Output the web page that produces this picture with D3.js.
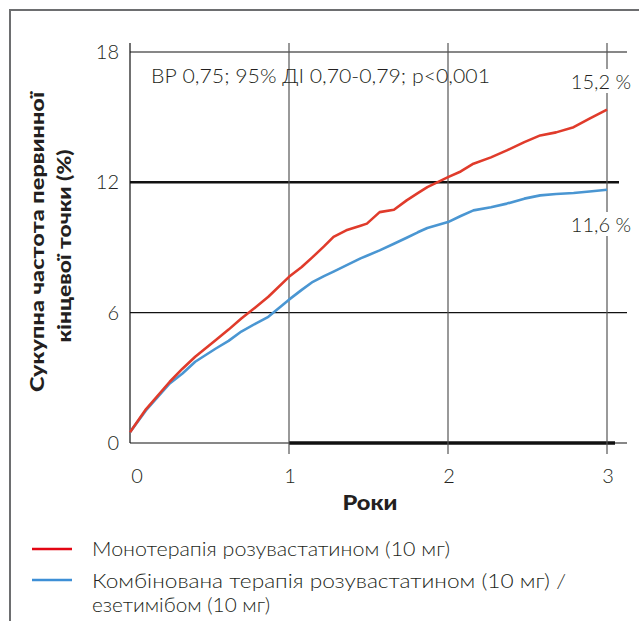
<!DOCTYPE html>
<html>
<head>
<meta charset="utf-8">
<script src="https://cdn.jsdelivr.net/npm/d3@7"></script>
<style>
  body { margin: 0; background: #fff; }
  text { font-family: Lato, "Noto Sans", sans-serif; fill: #231f20; }
</style>
</head>
<body>
<svg id="chart" width="639" height="621"></svg>
<script>
var svg = d3.select("#chart");

// data
var years = [0, 0.1, 0.25, 0.33, 0.41, 0.54, 0.62, 0.7, 0.79, 0.87, 1.0, 1.08, 1.15, 1.22, 1.28,
  1.36, 1.45, 1.49, 1.57, 1.66, 1.74, 1.81, 1.87, 2.0, 2.08, 2.16, 2.27, 2.37, 2.48, 2.58,
  2.68, 2.79, 2.89, 3.0];
var monoRate = [0.5, 1.55, 2.82, 3.42, 3.97, 4.74, 5.22, 5.73, 6.25, 6.73, 7.65, 8.1, 8.57, 9.05,
  9.49, 9.79, 10.0, 10.1, 10.63, 10.74, 11.17, 11.5, 11.78, 12.24, 12.5, 12.86, 13.15, 13.47,
  13.85, 14.16, 14.3, 14.54, 14.93, 15.35];
var comboRate = [0.5, 1.5, 2.74, 3.2, 3.74, 4.35, 4.7, 5.13, 5.5, 5.81, 6.6, 7.05, 7.42, 7.68,
  7.89, 8.18, 8.5, 8.62, 8.87, 9.17, 9.45, 9.7, 9.9, 10.17, 10.45, 10.71, 10.85, 11.02, 11.25,
  11.4, 11.46, 11.51, 11.58, 11.66];
var yTicks = [0, 6, 12, 18];
var xTicks = [0, 1, 2, 3];
var seriesNames = ["Монотерапія розувастатином (10 мг)",
  "Комбінована терапія розувастатином (10 мг) /", "езетимібом (10 мг)"];
var endLabels = ["15,2 %", "11,6 %"];
var statText = "ВР 0,75; 95% ДІ 0,70-0,79; р<0,001";

var RED = "#e03b2b", BLUE = "#4a96d2";

var x = d3.scaleLinear().domain([0, 3]).range([130, 607]);
var y = d3.scaleLinear().domain([0, 18]).range([443, 52]);

// stretch a text to a given width (reference font is wider than Lato)
function fitWidth(sel, w) {
  sel.attr("textLength", w).attr("lengthAdjust", "spacingAndGlyphs");
}

// frame
svg.append("path")
  .attr("d", "M10,621 V10 H639")
  .attr("fill", "none")
  .attr("stroke", "#6d6e70")
  .attr("stroke-width", 2);

// horizontal grid
svg.selectAll(".hgrid").data(yTicks)
  .enter().append("line")
  .attr("class", "hgrid")
  .attr("x1", x(0))
  .attr("x2", function(d) { return d === 12 ? 619 : 627; })
  .attr("y1", function(d) { return y(d); })
  .attr("y2", function(d) { return y(d); })
  .attr("stroke", "#111")
  .attr("stroke-width", function(d) { return d === 12 ? 2.5 : 1.2; });

// thick bit on the x axis
svg.append("line")
  .attr("x1", x(1)).attr("x2", 615)
  .attr("y1", y(0)).attr("y2", y(0))
  .attr("stroke", "#111").attr("stroke-width", 3.5);

// vertical grid
svg.selectAll(".vgrid").data(xTicks)
  .enter().append("line")
  .attr("class", "vgrid")
  .attr("x1", function(d) { return x(d); })
  .attr("x2", function(d) { return x(d); })
  .attr("y1", 43)
  .attr("y2", function(d) { return d === 0 ? y(0) : 454; })
  .attr("stroke", function(d) { return d === 0 ? "#111" : "#555"; })
  .attr("stroke-width", 1.2);

// tick labels
svg.selectAll(".ylab").data(yTicks)
  .enter().append("text")
  .attr("class", "ylab")
  .attr("x", 119)
  .attr("y", function(d) { return y(d) + 7; })
  .attr("text-anchor", "end")
  .style("font-size", "20px").style("font-weight", 300)
  .text(function(d) { return d; });

svg.selectAll(".xlab").data(xTicks)
  .enter().append("text")
  .attr("class", "xlab")
  .attr("x", function(d) { return x(d) + (d === 0 ? 7 : 1); })
  .attr("y", 483)
  .attr("text-anchor", "middle")
  .style("font-size", "20px").style("font-weight", 300)
  .text(function(d) { return d; });

svg.append("text")
  .attr("x", 370).attr("y", 510)
  .attr("text-anchor", "middle")
  .style("font-size", "20px").style("font-weight", 900)
  .text("Роки")
  .call(fitWidth, 55);

// y title
var yTitle = svg.append("g").attr("transform", "translate(0,242) rotate(-90)");
yTitle.append("text")
  .attr("x", 0).attr("y", 44)
  .attr("text-anchor", "middle")
  .style("font-size", "19px").style("font-weight", 900)
  .text("Сукупна частота первинної")
  .call(fitWidth, 300);
yTitle.append("text")
  .attr("x", -4).attr("y", 71)
  .attr("text-anchor", "middle")
  .style("font-size", "19px").style("font-weight", 900)
  .text("кінцевої точки (%)")
  .call(fitWidth, 193);

// curves
var line = d3.line()
  .x(function(d) { return x(d[0]); })
  .y(function(d) { return y(d[1]); });

svg.append("path")
  .datum(d3.zip(years, comboRate))
  .attr("d", line)
  .attr("fill", "none").attr("stroke", BLUE).attr("stroke-width", 2.6)
  .attr("stroke-linejoin", "round");

svg.append("path")
  .datum(d3.zip(years, monoRate))
  .attr("d", line)
  .attr("fill", "none").attr("stroke", RED).attr("stroke-width", 2.6)
  .attr("stroke-linejoin", "round");

// stats annotation
svg.append("text")
  .attr("x", 151).attr("y", 83)
  .style("font-size", "20px").style("font-weight", 300)
  .text(statText)
  .call(fitWidth, 339);

// end labels with white boxes
[[endLabels[0], 89], [endLabels[1], 232]].forEach(function(p) {
  var g = svg.append("g");
  var bg = g.append("rect").attr("fill", "#fff");
  var t = g.append("text")
    .attr("x", 631).attr("y", p[1])
    .attr("text-anchor", "end")
    .style("font-size", "20px").style("font-weight", 300)
    .text(p[0]);
  var b = t.node().getBBox();
  bg.attr("x", b.x - 2).attr("y", b.y).attr("width", b.width + 4).attr("height", b.height);
});

// legend
var legend = svg.append("g");
legend.append("line")
  .attr("x1", 32).attr("x2", 72).attr("y1", 549).attr("y2", 549)
  .attr("stroke", "#e30613").attr("stroke-width", 2.5);
legend.append("line")
  .attr("x1", 32).attr("x2", 72).attr("y1", 580).attr("y2", 580)
  .attr("stroke", "#3d8fd6").attr("stroke-width", 2.5);
var legendWidths = [358, 474, 178];
legend.selectAll(".ltext").data(seriesNames)
  .enter().append("text")
  .attr("class", "ltext")
  .attr("x", 92)
  .attr("y", function(d, i) { return [556, 588, 612][i]; })
  .attr("textLength", function(d, i) { return legendWidths[i]; })
  .attr("lengthAdjust", "spacingAndGlyphs")
  .style("font-size", "19px").style("font-weight", 300)
  .text(function(d) { return d; });
</script>
</body>
</html>
